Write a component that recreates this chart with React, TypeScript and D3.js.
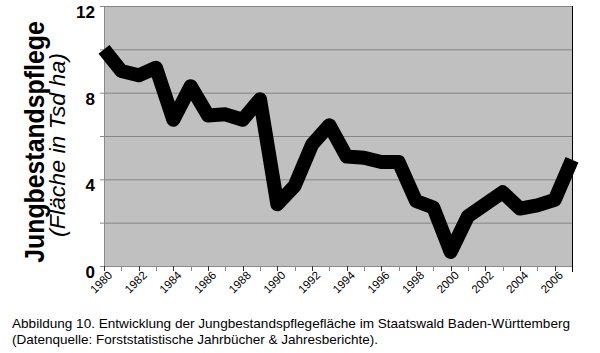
import React, { useRef, useEffect } from "react";
import * as d3 from "d3";

const years = [
  1980, 1981, 1982, 1983, 1984, 1985, 1986, 1987, 1988, 1989, 1990, 1991, 1992, 1993,
  1994, 1995, 1996, 1997, 1998, 1999, 2000, 2001, 2002, 2003, 2004, 2005, 2006, 2007,
];
const area = [
  10.0, 9.0, 8.8, 9.15, 6.75, 8.3, 6.95, 7.0, 6.75, 7.7, 2.85, 3.7, 5.6, 6.5,
  5.05, 5.0, 4.8, 4.8, 3.0, 2.7, 0.65, 2.3, 2.85, 3.4, 2.65, 2.8, 3.05, 4.9,
];
const xLabels = [1980, 1982, 1984, 1986, 1988, 1990, 1992, 1994, 1996, 1998, 2000, 2002, 2004, 2006];
const yLabels = [0, 4, 8, 12];
const yGrid = [0, 2, 4, 6, 8, 10, 12];

const titleText = "Jungbestandspflege";
const subTitleText = "(Fläche in Tsd ha)";
const captionLines = [
  "Abbildung 10. Entwicklung der Jungbestandspflegefläche im Staatswald Baden-Württemberg",
  "(Datenquelle: Forststatistische Jahrbücher & Jahresberichte).",
];

const FONT = "'Liberation Sans', Arial, sans-serif";

const JungbestandChart = () => {
  const svgRef = useRef<SVGSVGElement>(null);

  useEffect(() => {
    const svg = d3.select(svgRef.current);
    svg.selectAll("*").remove();

    const left = 104;
    const right = 572;
    const top = 6;
    const bottom = 266;

    const x = d3.scaleLinear().domain([1980, 2007]).range([left, right]);
    const y = d3.scaleLinear().domain([0, 12]).range([bottom, top]);

    // plot background
    svg.append("rect")
      .attr("x", left)
      .attr("y", top)
      .attr("width", right - left)
      .attr("height", bottom - top)
      .attr("fill", "#c0c0c0");

    // gridlines
    svg.selectAll("line.grid")
      .data(yGrid)
      .enter()
      .append("line")
      .attr("class", "grid")
      .attr("x1", left)
      .attr("x2", right)
      .attr("y1", (d) => y(d) + 0.5)
      .attr("y2", (d) => y(d) + 0.5)
      .attr("stroke", "#858585")
      .attr("stroke-width", 1);

    // y axis line + ticks
    svg.append("line")
      .attr("x1", left + 0.5).attr("x2", left + 0.5)
      .attr("y1", top).attr("y2", bottom)
      .attr("stroke", "#8a8a8a");
    svg.selectAll("line.ytick")
      .data(yGrid)
      .enter()
      .append("line")
      .attr("class", "ytick")
      .attr("x1", left - 4)
      .attr("x2", left)
      .attr("y1", (d) => y(d) + 0.5)
      .attr("y2", (d) => y(d) + 0.5)
      .attr("stroke", "#8a8a8a");

    // x axis line + ticks
    svg.append("line")
      .attr("x1", left).attr("x2", right)
      .attr("y1", bottom + 0.5).attr("y2", bottom + 0.5)
      .attr("stroke", "#8a8a8a");
    svg.selectAll("line.xtick")
      .data(years)
      .enter()
      .append("line")
      .attr("class", "xtick")
      .attr("x1", (d) => Math.round(x(d)) + 0.5)
      .attr("x2", (d) => Math.round(x(d)) + 0.5)
      .attr("y1", bottom)
      .attr("y2", bottom + 5)
      .attr("stroke", (d) => (d % 2 === 0 ? "#333" : "#8a8a8a"));

    // right border
    svg.append("line")
      .attr("x1", right + 0.5).attr("x2", right + 0.5)
      .attr("y1", top).attr("y2", bottom + 6)
      .attr("stroke", "#000");

    // data line
    const line = d3.line<number>()
      .x((d, i) => x(years[i]))
      .y((d) => y(d));

    svg.append("path")
      .datum(area)
      .attr("d", line)
      .attr("fill", "none")
      .attr("stroke", "#000")
      .attr("stroke-width", 14)
      .attr("stroke-linejoin", "round")
      .attr("stroke-linecap", "butt");

    // y labels
    svg.selectAll("text.ylab")
      .data(yLabels)
      .enter()
      .append("text")
      .attr("class", "ylab")
      .attr("x", 95)
      .attr("y", (d) => y(d) + 12)
      .attr("text-anchor", "end")
      .attr("font-family", FONT)
      .attr("font-weight", "bold")
      .attr("font-size", 17)
      .text((d) => d);

    // x labels
    svg.selectAll("text.xlab")
      .data(xLabels)
      .enter()
      .append("text")
      .attr("class", "xlab")
      .attr("transform", (d) => `translate(${x(d) + 9},${276}) rotate(-45)`)
      .attr("text-anchor", "end")
      .attr("font-family", FONT)
      .attr("font-size", 11.5)
      .text((d) => d);

    // axis titles (squeezed along the text direction, like the original)
    svg.append("text")
      .attr("transform", "translate(44,142) rotate(-90) scale(0.92,1)")
      .attr("text-anchor", "middle")
      .attr("font-family", FONT)
      .attr("font-weight", "bold")
      .attr("font-size", 27)
      .text(titleText);

    svg.append("text")
      .attr("transform", "translate(65,145) rotate(-90) scale(1.05,1)")
      .attr("text-anchor", "middle")
      .attr("font-family", FONT)
      .attr("font-style", "italic")
      .attr("font-size", 22)
      .text(subTitleText);

    // caption
    const capWidths = [558, 366];
    svg.selectAll("text.cap")
      .data(captionLines)
      .enter()
      .append("text")
      .attr("class", "cap")
      .attr("x", 12)
      .attr("y", (d, i) => 328 + i * 16)
      .attr("font-family", FONT)
      .attr("font-size", 13.5)
      .attr("textLength", (d, i) => capWidths[i])
      .attr("lengthAdjust", "spacingAndGlyphs")
      .text((d) => d);
  }, []);

  return (
    <svg
      ref={svgRef}
      width={600}
      height={353}
      style={{ position: "absolute", left: 0, top: 0, background: "#fff" }}
    />
  );
};

export default function App() {
  return <JungbestandChart />;
}
